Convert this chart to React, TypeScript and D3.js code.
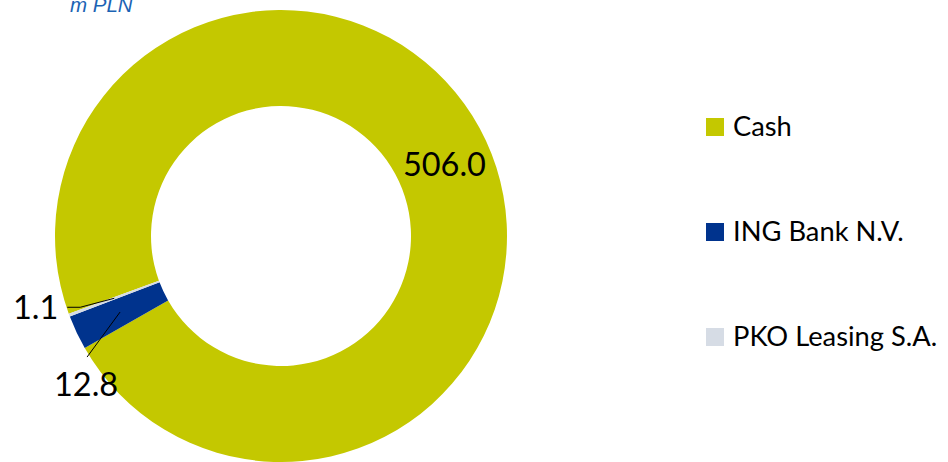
import React from "react";
import * as d3 from "d3";

const categories = ["Cash", "ING Bank N.V.", "PKO Leasing S.A."];
const values = [506.0, 12.8, 1.1];
const valueLabels = ["506.0", "12.8", "1.1"];
const colors = ["#C4C800", "#00338D", "#D6DCE5"];
const unitTitle = "m PLN";

const W = 948;
const H = 462;
const cx = 281;
const cy = 236;
const rOuter = 226;
const rInner = 130;
const startDeg = 249.9;

export default function App() {
  const data = categories.map((c, i) => ({ name: c, value: values[i], label: valueLabels[i], color: colors[i] }));
  const start = (startDeg * Math.PI) / 180;
  const pie = d3
    .pie<any>()
    .sort(null)
    .value((d: any) => d.value)
    .startAngle(start)
    .endAngle(start + 2 * Math.PI);
  const arcs = pie(data);
  const arc = d3.arc<any>().innerRadius(rInner).outerRadius(rOuter);

  const labelFont = "Lato, 'Open Sans', sans-serif";

  const c0 = arc.centroid(arcs[0]);
  const c1 = arc.centroid(arcs[1]);
  const c2 = arc.centroid(arcs[2]);

  const legendY = d3.scalePoint<string>().domain(categories).range([127, 337]);

  return (
    <svg width={W} height={H} style={{ position: "absolute", left: 0, top: 0, background: "#fff" }}>
      <text x={70} y={12} fontFamily="'Liberation Sans', Arial, sans-serif" fontStyle="italic" fontSize={20.5} fill="#1B63B4">
        {unitTitle}
      </text>
      <g transform={`translate(${cx},${cy})`}>
        {arcs.map((a, i) => (
          <path key={i} d={arc(a) as string} fill={a.data.color} />
        ))}
        <text x={c0[0] + 2} y={c0[1] + 2} textAnchor="middle" dominantBaseline="central" fontFamily={labelFont} fontSize={32.5} fill="#000">
          {arcs[0].data.label}
        </text>
        <line x1={c1[0]} y1={c1[1]} x2={c1[0] - 33} y2={c1[1] + 45} stroke="#000" strokeWidth={1} />
        <text x={c1[0] - 34} y={c1[1] + 84} textAnchor="middle" fontFamily={labelFont} fontSize={32.5} fill="#000">
          {arcs[1].data.label}
        </text>
        <polyline
          points={`${c2[0]},${c2[1]} ${c2[0] - 34},${c2[1] + 9} ${c2[0] - 47},${c2[1] + 9}`}
          fill="none"
          stroke="#000"
          strokeWidth={1}
        />
        <text x={c2[0] - 56} y={c2[1] + 21} textAnchor="end" fontFamily={labelFont} fontSize={32.5} fill="#000">
          {arcs[2].data.label}
        </text>
      </g>
      <g>
        {data.map((d) => {
          const y = legendY(d.name) as number;
          return (
            <g key={d.name}>
              <rect x={706} y={y - 9} width={18} height={18} fill={d.color} />
              <text x={733} y={y + 8.5} fontFamily={labelFont} fontSize={27.3} fill="#000">
                {d.name}
              </text>
            </g>
          );
        })}
      </g>
    </svg>
  );
}
